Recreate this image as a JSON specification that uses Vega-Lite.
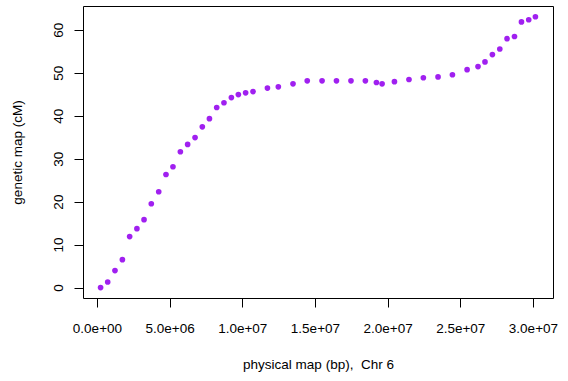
{
  "$schema": "https://vega.github.io/schema/vega-lite/v6.json",
  "width": 470,
  "height": 292,
  "autosize": {"type": "none"},
  "padding": {"left": 83, "top": 6, "right": 15, "bottom": 83},
  "background": "white",
  "config": {
    "view": {"stroke": "black", "strokeWidth": 1},
    "font": "Liberation Sans",
    "axis": {
      "labelFont": "Liberation Sans",
      "titleFont": "Liberation Sans",
      "labelFontSize": 13.5,
      "titleFontSize": 13.5,
      "titleFontWeight": "normal",
      "labelColor": "black",
      "titleColor": "black",
      "tickColor": "black",
      "tickSize": 9,
      "domain": false,
      "grid": false
    }
  },
  "data": {
    "values": [
      {"bp": 250000, "cM": 0.0},
      {"bp": 740000, "cM": 1.3},
      {"bp": 1240000, "cM": 3.95},
      {"bp": 1750000, "cM": 6.5},
      {"bp": 2250000, "cM": 11.86},
      {"bp": 2750000, "cM": 13.7},
      {"bp": 3240000, "cM": 15.8},
      {"bp": 3740000, "cM": 19.5},
      {"bp": 4250000, "cM": 22.3},
      {"bp": 4750000, "cM": 26.3},
      {"bp": 5230000, "cM": 28.1},
      {"bp": 5740000, "cM": 31.6},
      {"bp": 6240000, "cM": 33.3},
      {"bp": 6750000, "cM": 34.9},
      {"bp": 7250000, "cM": 37.4},
      {"bp": 7740000, "cM": 39.3},
      {"bp": 8240000, "cM": 41.9},
      {"bp": 8740000, "cM": 43.0},
      {"bp": 9250000, "cM": 44.2},
      {"bp": 9730000, "cM": 44.9},
      {"bp": 10230000, "cM": 45.3},
      {"bp": 10740000, "cM": 45.6},
      {"bp": 11730000, "cM": 46.4},
      {"bp": 12480000, "cM": 46.7},
      {"bp": 13490000, "cM": 47.4},
      {"bp": 14470000, "cM": 48.1},
      {"bp": 15490000, "cM": 48.1},
      {"bp": 16480000, "cM": 48.1},
      {"bp": 17480000, "cM": 48.1},
      {"bp": 18470000, "cM": 48.1},
      {"bp": 19230000, "cM": 47.7},
      {"bp": 19620000, "cM": 47.4},
      {"bp": 20470000, "cM": 47.9},
      {"bp": 21470000, "cM": 48.4},
      {"bp": 22460000, "cM": 48.8},
      {"bp": 23470000, "cM": 49.0},
      {"bp": 24460000, "cM": 49.5},
      {"bp": 25470000, "cM": 50.7},
      {"bp": 26220000, "cM": 51.4},
      {"bp": 26700000, "cM": 52.5},
      {"bp": 27210000, "cM": 54.2},
      {"bp": 27720000, "cM": 55.5},
      {"bp": 28220000, "cM": 57.9},
      {"bp": 28730000, "cM": 58.4},
      {"bp": 29210000, "cM": 61.8},
      {"bp": 29710000, "cM": 62.3},
      {"bp": 30170000, "cM": 63.0}
    ]
  },
  "mark": {"type": "circle", "color": "#A020F0", "opacity": 1, "size": 32},
  "encoding": {
    "x": {
      "field": "bp",
      "type": "quantitative",
      "scale": {"domain": [-960000, 31380000], "nice": false, "zero": false},
      "axis": {
        "values": [0, 5000000, 10000000, 15000000, 20000000, 25000000, 30000000],
        "labelExpr": "replace(format(datum.value, '.1e'), 'e+', 'e+0')",
        "labelBaseline": "alphabetic",
        "labelPadding": 25.5,
        "labelOverlap": false,
        "title": "physical map (bp),\u00a0 Chr 6",
        "titleBaseline": "alphabetic",
        "titlePadding": 33
      }
    },
    "y": {
      "field": "cM",
      "type": "quantitative",
      "scale": {"domain": [-2.42, 65.5], "nice": false, "zero": false},
      "axis": {
        "values": [0, 10, 20, 30, 40, 50, 60],
        "labelAngle": -90,
        "labelAlign": "center",
        "labelBaseline": "alphabetic",
        "labelPadding": 12,
        "labelOverlap": false,
        "title": "genetic map (cM)",
        "titleBaseline": "alphabetic",
        "titlePadding": 30
      }
    }
  }
}
